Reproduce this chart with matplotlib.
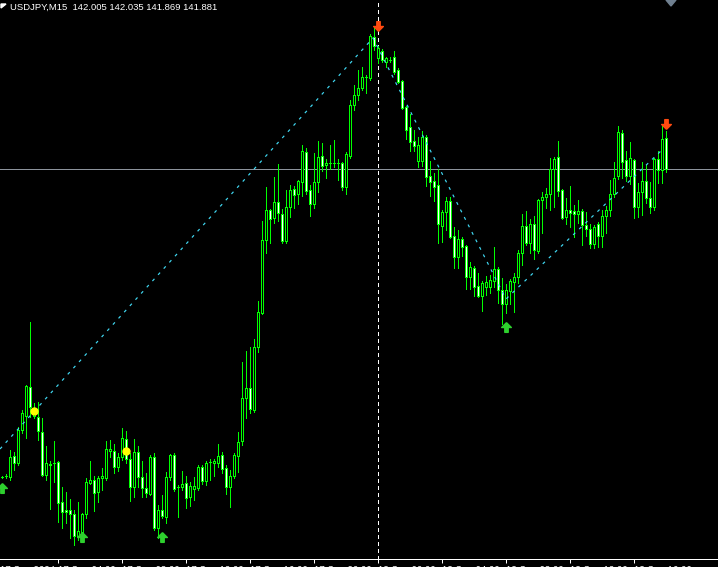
import numpy as np
import matplotlib
matplotlib.use('Agg')
import matplotlib.pyplot as plt
from matplotlib.patches import Polygon

# ── data (USDJPY M15, prices) ────────────────────────────────────
opens = [140.649, 140.653, 140.649, 140.733, 140.705, 140.837, 140.893, 141.009, 140.893, 140.889,
         140.829, 140.657, 140.697, 140.705, 140.709, 140.549, 140.517, 140.517, 140.501, 140.413,
         140.429, 140.501, 140.625, 140.637, 140.589, 140.645, 140.645, 140.753, 140.753, 140.689,
         140.729, 140.801, 140.721, 140.609, 140.749, 140.649, 140.605, 140.581, 140.729, 140.445,
         140.517, 140.489, 140.649, 140.737, 140.609, 140.609, 140.625, 140.569, 140.601, 140.605,
         140.689, 140.633, 140.709, 140.705, 140.705, 140.737, 140.685, 140.609, 140.653, 140.733,
         140.793, 140.965, 141.005, 140.917, 141.169, 141.305, 141.597, 141.717, 141.685, 141.749,
         141.701, 141.593, 141.729, 141.801, 141.781, 141.829, 141.949, 141.797, 141.741, 141.829,
         141.933, 141.897, 141.905, 141.905, 141.905, 141.905, 141.809, 141.933, 142.137, 142.177,
         142.205, 142.249, 142.245, 142.409, 142.325, 142.353, 142.309, 142.317, 142.329, 142.277,
         142.233, 142.129, 142.049, 141.993, 141.913, 141.913, 142.009, 141.853, 141.833, 141.817,
         141.653, 141.709, 141.753, 141.613, 141.529, 141.601, 141.573, 141.449, 141.485, 141.413,
         141.373, 141.409, 141.409, 141.433, 141.481, 141.397, 141.341, 141.393, 141.429, 141.449,
         141.545, 141.653, 141.585, 141.661, 141.553, 141.757, 141.769, 141.781, 141.881, 141.929,
         141.797, 141.689, 141.717, 141.713, 141.701, 141.713, 141.657, 141.641, 141.581, 141.661,
         141.613, 141.693, 141.717, 141.781, 141.853, 142.025, 141.917, 141.853, 141.917, 141.729,
         141.789, 141.833, 141.765, 141.729, 141.921, 141.877, 142.005]
highs = [140.653, 140.661, 140.757, 140.749, 140.849, 140.917, 141.017, 141.269, 140.945, 140.949,
         140.885, 140.773, 140.713, 140.793, 140.713, 140.609, 140.589, 140.561, 140.517, 140.549,
         140.505, 140.645, 140.713, 140.653, 140.653, 140.685, 140.793, 140.797, 140.781, 140.745,
         140.845, 140.833, 140.745, 140.801, 140.773, 140.713, 140.665, 140.737, 140.745, 140.537,
         140.577, 140.669, 140.741, 140.745, 140.617, 140.673, 140.653, 140.629, 140.649, 140.697,
         140.697, 140.713, 140.721, 140.721, 140.781, 140.749, 140.697, 140.677, 140.745, 140.829,
         141.109, 141.153, 141.169, 141.201, 141.353, 141.673, 141.809, 141.721, 141.849, 141.901,
         141.721, 141.797, 141.817, 141.813, 141.837, 141.977, 141.965, 141.817, 141.945, 141.993,
         141.985, 141.921, 141.977, 141.997, 141.921, 141.909, 141.949, 142.157, 142.217, 142.277,
         142.289, 142.257, 142.421, 142.445, 142.373, 142.361, 142.329, 142.329, 142.353, 142.285,
         142.237, 142.133, 142.101, 142.037, 142.009, 142.033, 142.017, 141.913, 141.865, 141.881,
         141.717, 141.769, 141.769, 141.649, 141.637, 141.609, 141.577, 141.509, 141.493, 141.465,
         141.433, 141.453, 141.457, 141.569, 141.489, 141.445, 141.421, 141.441, 141.465, 141.557,
         141.701, 141.713, 141.681, 141.693, 141.761, 141.789, 141.805, 141.925, 141.929, 141.993,
         141.801, 141.765, 141.813, 141.737, 141.757, 141.721, 141.709, 141.661, 141.657, 141.669,
         141.717, 141.733, 141.837, 141.909, 142.053, 142.037, 141.953, 141.989, 141.921, 141.825,
         141.909, 141.897, 141.829, 141.925, 141.953, 142.057, 142.035]
lows = [140.645, 140.645, 140.637, 140.677, 140.697, 140.825, 140.805, 140.889, 140.885, 140.797,
        140.653, 140.637, 140.521, 140.629, 140.469, 140.445, 140.465, 140.405, 140.377, 140.397,
        140.425, 140.485, 140.621, 140.513, 140.549, 140.597, 140.637, 140.729, 140.665, 140.673,
        140.717, 140.705, 140.553, 140.569, 140.609, 140.569, 140.569, 140.577, 140.437, 140.405,
        140.485, 140.465, 140.637, 140.593, 140.489, 140.597, 140.525, 140.533, 140.557, 140.597,
        140.621, 140.617, 140.637, 140.653, 140.689, 140.665, 140.581, 140.529, 140.645, 140.669,
        140.777, 140.885, 140.905, 140.909, 141.149, 141.301, 141.545, 141.585, 141.665, 141.673,
        141.585, 141.585, 141.689, 141.725, 141.741, 141.773, 141.781, 141.693, 141.725, 141.789,
        141.873, 141.845, 141.881, 141.889, 141.837, 141.797, 141.781, 141.925, 142.117, 142.157,
        142.197, 142.185, 142.237, 142.357, 142.305, 142.309, 142.289, 142.309, 142.261, 142.225,
        142.121, 142.001, 141.953, 141.953, 141.889, 141.893, 141.813, 141.773, 141.753, 141.585,
        141.589, 141.637, 141.605, 141.485, 141.485, 141.533, 141.401, 141.401, 141.373, 141.369,
        141.313, 141.377, 141.385, 141.409, 141.345, 141.261, 141.305, 141.341, 141.309, 141.425,
        141.497, 141.577, 141.545, 141.521, 141.545, 141.625, 141.725, 141.717, 141.729, 141.773,
        141.681, 141.661, 141.649, 141.609, 141.665, 141.577, 141.613, 141.565, 141.565, 141.569,
        141.569, 141.625, 141.693, 141.769, 141.841, 141.845, 141.833, 141.821, 141.685, 141.689,
        141.697, 141.745, 141.705, 141.717, 141.825, 141.825, 141.869]
closes = [140.649, 140.653, 140.729, 140.705, 140.837, 140.905, 141.013, 140.929, 140.925, 140.833,
          140.657, 140.705, 140.701, 140.705, 140.545, 140.509, 140.509, 140.501, 140.413, 140.433,
          140.501, 140.629, 140.637, 140.585, 140.645, 140.653, 140.761, 140.761, 140.689, 140.729,
          140.805, 140.721, 140.609, 140.749, 140.649, 140.605, 140.585, 140.729, 140.445, 140.517,
          140.493, 140.649, 140.737, 140.601, 140.609, 140.621, 140.565, 140.613, 140.613, 140.689,
          140.633, 140.705, 140.709, 140.713, 140.733, 140.681, 140.609, 140.653, 140.737, 140.789,
          140.965, 141.005, 140.921, 141.169, 141.309, 141.597, 141.717, 141.681, 141.749, 141.705,
          141.593, 141.729, 141.797, 141.777, 141.833, 141.953, 141.793, 141.741, 141.829, 141.929,
          141.893, 141.905, 141.905, 141.905, 141.905, 141.809, 141.941, 142.137, 142.177, 142.205,
          142.249, 142.249, 142.413, 142.373, 142.365, 142.317, 142.325, 142.317, 142.269, 142.229,
          142.125, 142.037, 141.989, 141.973, 141.977, 142.009, 141.849, 141.829, 141.809, 141.661,
          141.709, 141.753, 141.609, 141.529, 141.601, 141.569, 141.449, 141.489, 141.409, 141.373,
          141.425, 141.429, 141.437, 141.481, 141.397, 141.341, 141.397, 141.433, 141.449, 141.545,
          141.653, 141.585, 141.661, 141.557, 141.757, 141.769, 141.781, 141.881, 141.921, 141.793,
          141.685, 141.717, 141.705, 141.701, 141.713, 141.657, 141.641, 141.581, 141.649, 141.613,
          141.693, 141.717, 141.781, 141.845, 142.029, 141.909, 141.853, 141.925, 141.729, 141.789,
          141.833, 141.765, 141.729, 141.921, 141.877, 142.001, 141.881]

# zigzag vertices (bar index, price)
zz_idx = [-0.5, 92.75, 126, 165.25]
zz_price = [140.761, 142.405, 141.361, 141.961]

# signal arrows and dots
up_idx = [0, 20, 40, 126]
up_price = [140.605, 140.409, 140.409, 141.249]
down_idx = [94, 166]
down_price = [142.453, 142.061]
dot_idx = [8, 31]
dot_price = [140.913, 140.753]

bid = 141.881
separator_idx = 94
tick_idx = [14, 30, 46, 62, 78, 94, 110, 126, 142, 158]
tick_labels = ['17 Sep 04:00', '17 Sep 08:00', '17 Sep 12:00', '17 Sep 16:00', '17 Sep 20:00',
               '18 Sep 00:00', '18 Sep 04:00', '18 Sep 08:00', '18 Sep 12:00', '18 Sep 16:00']
first_label = '17 Sep 2024'
header = 'USDJPY,M15  142.005 142.035 141.869 141.881'

# ── figure ───────────────────────────
W, H = 718, 567
LIME = '#00FF00'
PX = 0.72  # one pixel in points at dpi 100

fig = plt.figure(figsize=(W / 100, H / 100), dpi=100, facecolor='black')
ax = fig.add_axes([0, 8 / H, 1, 559 / H], facecolor='black')
ax.set_xlim(-0.5, 179)
ax.set_ylim(140.321, 142.557)

o = np.array(opens)
h = np.array(highs)
l = np.array(lows)
c = np.array(closes)
idx = np.arange(len(o))

ax.vlines(idx, l, h, color=LIME, linewidth=PX, antialiased=False, zorder=2)
face = np.where(c > o, 'black', 'white')
ax.bar(idx, np.abs(c - o), bottom=np.minimum(o, c), width=0.5, color=face,
       edgecolor=LIME, linewidth=PX, antialiased=False, zorder=3)

ax.axhline(bid, color='#8c939c', linewidth=PX, zorder=1)
ax.axvline(separator_idx, color='white', linewidth=PX, linestyle=(0, (4, 4)),
           antialiased=False, zorder=1)

ax.plot(zz_idx, zz_price, color='#40d8f2', linewidth=PX * 1.2, linestyle=(0, (2.5, 4.5)),
        zorder=4)

up_marker = [(0, 1), (-1, 0), (-0.35, 0), (-0.35, -1), (0.35, -1), (0.35, 0), (1, 0), (0, 1)]
down_marker = [(x, -y) for x, y in up_marker]
ax.plot(up_idx, up_price, linestyle='none', marker=up_marker, markersize=7,
        color='#2ed02e', zorder=5)
ax.plot(down_idx, down_price, linestyle='none', marker=down_marker, markersize=7,
        color='#ff4a10', zorder=5)
ax.plot(dot_idx, dot_price, linestyle='none', marker='o', markersize=5,
        color='#ffff00', zorder=5)

# time axis (labels sit mostly below the window edge, as in the terminal)
for s in ['top', 'left', 'right']:
    ax.spines[s].set_visible(False)
ax.spines['bottom'].set_color('white')
ax.spines['bottom'].set_linewidth(PX)
ax.set_yticks([])
ax.set_xticks(tick_idx)
ax.set_xticklabels(tick_labels)
ax.tick_params(axis='x', colors='white', length=3, width=PX, pad=1.8, labelsize=7)
for lbl in ax.get_xticklabels():
    lbl.set_ha('left')
    lbl.set_family('Liberation Sans')
ax.text(-0.5, -7 / 559, first_label, transform=ax.get_xaxis_transform(), color='white',
        fontsize=7, family='Liberation Sans', ha='left', va='top', clip_on=False)

# header
fig.text(10 / W, 1 - 3 / H, header, color='white', fontsize=6.8, family='Liberation Sans',
         ha='left', va='top')
fig.patches.append(Polygon([(1 / W, 1 - 4 / H), (6 / W, 1 - 4 / H), (1 / W, 1 - 8 / H)],
                           closed=True, color='white', transform=fig.transFigure))
fig.patches.append(Polygon([(666 / W, 1.0), (676 / W, 1.0), (671 / W, 1 - 6 / H)],
                           closed=True, color='#708090', transform=fig.transFigure))

fig.savefig('out.png', dpi=100, facecolor='black')
